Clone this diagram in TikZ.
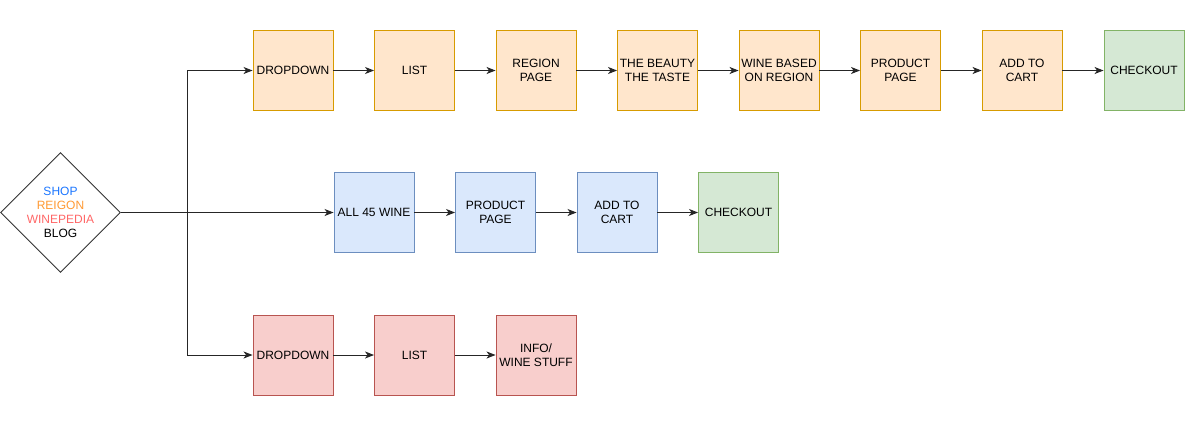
\documentclass[tikz,border=0pt]{standalone}
\usepackage{fontspec}
\setmainfont{Liberation Sans}
\usetikzlibrary{arrows.meta,shapes.geometric}
\definecolor{ofill}{HTML}{FFE6CC}\definecolor{odraw}{HTML}{D79B00}
\definecolor{bfill}{HTML}{DAE8FC}\definecolor{bdraw}{HTML}{6C8EBF}
\definecolor{gfill}{HTML}{D5E8D4}\definecolor{gdraw}{HTML}{82B366}
\definecolor{rfill}{HTML}{F8CECC}\definecolor{rdraw}{HTML}{B85450}
\definecolor{shopc}{HTML}{1A75FF}\definecolor{regc}{HTML}{FF9933}\definecolor{wpc}{HTML}{FF6666}
\begin{document}
\begin{tikzpicture}[x=1pt,y=-1pt,
  box/.style={rectangle,minimum width=80pt,minimum height=80pt,inner sep=0pt,align=center,line width=0.9pt,font=\fontsize{12}{14}\selectfont},
  obox/.style={box,fill=ofill,draw=odraw},
  bbox/.style={box,fill=bfill,draw=bdraw},
  gbox/.style={box,fill=gfill,draw=gdraw},
  rbox/.style={box,fill=rfill,draw=rdraw},
  conn/.style={line width=1pt,draw=black!85,-{Stealth[length=9pt,width=7pt,inset=2.5pt]}}]
\useasboundingbox (0,0) rectangle (1200,424);
\node[diamond,draw=black!80,line width=0.9pt,minimum width=120pt,minimum height=120pt,inner sep=0pt,aspect=1,align=center,font=\fontsize{12}{14}\selectfont] (d) at (60.5,212.5)
  {\textcolor{shopc}{SHOP}\\\textcolor{regc}{REIGON}\\\textcolor{wpc}{WINEPEDIA}\\BLOG};
% top row
\node[obox] (t1) at (293,70.5) {DROPDOWN};
\node[obox] (t2) at (414.5,70.5) {LIST};
\node[obox] (t3) at (536,70.5) {REGION\\PAGE};
\node[obox] (t4) at (657.5,70.5) {THE BEAUTY\\THE TASTE};
\node[obox] (t5) at (779,70.5) {WINE BASED\\ON REGION};
\node[obox] (t6) at (900.5,70.5) {PRODUCT\\PAGE};
\node[obox] (t7) at (1022,70.5) {ADD TO\\CART};
\node[gbox] (t8) at (1144,70.5) {CHECKOUT};
% middle row
\node[bbox] (m1) at (374,212.5) {ALL 45 WINE};
\node[bbox] (m2) at (495.5,212.5) {PRODUCT\\PAGE};
\node[bbox] (m3) at (617,212.5) {ADD TO\\CART};
\node[gbox] (m4) at (738.5,212.5) {CHECKOUT};
% bottom row
\node[rbox] (b1) at (293,355) {DROPDOWN};
\node[rbox] (b2) at (414.5,355) {LIST};
\node[rbox] (b3) at (536,355) {INFO/\\WINE STUFF};
\coordinate (j) at (187,212.5);
\draw[conn] (d.east) -- (m1.west);
\draw[conn] (j) |- (t1.west);
\draw[conn] (j) |- (b1.west);
\foreach \a/\b in {t1/t2,t2/t3,t3/t4,t4/t5,t5/t6,t6/t7,t7/t8,m1/m2,m2/m3,m3/m4,b1/b2,b2/b3}
  \draw[conn] (\a.east) -- (\b.west);
\end{tikzpicture}
\end{document}
